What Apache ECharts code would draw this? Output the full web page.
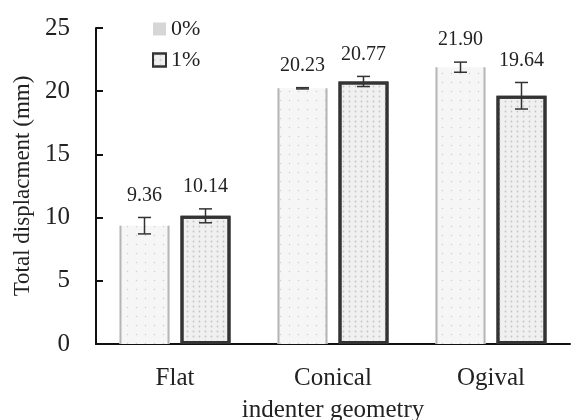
<!DOCTYPE html>
<html>
<head>
<meta charset="utf-8">
<script src="https://cdn.jsdelivr.net/npm/echarts@6/dist/echarts.min.js"></script>
<style>
  html, body { margin: 0; padding: 0; background: #fff; }
  #chart { width: 571px; height: 420px; }
</style>
</head>
<body>
<div id="chart"></div>
<script>
const categories = ['Flat', 'Conical', 'Ogival']
const seriesNames = ['0%', '1%']
const values0 = [9.36, 20.23, 21.90]
const values1 = [10.14, 20.77, 19.64]
const errors0 = [0.65, 0.05, 0.4]
const errors1 = [0.55, 0.4, 1.05]
const yTicks = [0, 5, 10, 15, 20, 25]

const font = 'Liberation Serif, Times New Roman, serif'
const barW = 50
const barOffset = 30.5 // half of bar width + gap

// error bars + value labels (and the side edges of the 0% bars, which have no top edge)
function errorSeries(values, errors, side, sideEdges) {
  return {
    type: 'custom',
    name: 'err' + side,
    silent: true,
    z: 5,
    data: values.map((v, i) => [i, v, errors[i]]),
    renderItem(params, api) {
      const i = api.value(0)
      const v = api.value(1)
      const e = api.value(2)
      const top = api.coord([i, v + e])
      const bot = api.coord([i, v - e])
      const x = top[0] + side * barOffset
      const cap = 6.5
      const st = { stroke: '#333', lineWidth: 1.5 }
      const children = []
      if (sideEdges) {
        const vTop = api.coord([i, v])[1]
        const base = api.coord([i, 0])[1]
        const es = { stroke: '#b5b5b5', lineWidth: 2 }
        children.push(
          { type: 'line', shape: { x1: x - barW / 2 + 1, y1: vTop, x2: x - barW / 2 + 1, y2: base }, style: es },
          { type: 'line', shape: { x1: x + barW / 2 - 1, y1: vTop, x2: x + barW / 2 - 1, y2: base }, style: es }
        )
      }
      children.push(
        { type: 'line', shape: { x1: x, y1: top[1], x2: x, y2: bot[1] }, style: st },
        { type: 'line', shape: { x1: x - cap, y1: top[1], x2: x + cap, y2: top[1] }, style: st },
        { type: 'line', shape: { x1: x - cap, y1: bot[1], x2: x + cap, y2: bot[1] }, style: st },
        {
          type: 'text',
          style: {
            x: x, y: top[1] - 22,
            text: v.toFixed(2),
            font: '20px ' + font,
            fill: '#222',
            align: 'center',
            verticalAlign: 'middle'
          }
        }
      )
      return { type: 'group', children }
    }
  }
}

const chart = echarts.init(document.getElementById('chart'))
chart.setOption({
  backgroundColor: '#fff',
  animation: false,
  grid: { left: 96, right: 1, top: 28, bottom: 76, outerBoundsMode: 'none', containLabel: false },
  legend: {
    data: [
      { name: seriesNames[0], itemStyle: { color: '#d6d6d6', decal: 'none' } },
      { name: seriesNames[1] }
    ],
    orient: 'vertical',
    left: 147,
    top: 13,
    icon: 'rect',
    itemWidth: 13,
    itemHeight: 13,
    itemGap: 9,
    textStyle: { fontFamily: font, fontSize: 22, color: '#222' }
  },
  xAxis: {
    type: 'category',
    data: categories,
    name: 'indenter geometry',
    nameLocation: 'middle',
    nameGap: 54,
    nameTextStyle: { fontFamily: font, fontSize: 25, color: '#222' },
    axisLine: { lineStyle: { color: '#111', width: 2 } },
    axisTick: { show: false },
    axisLabel: { fontFamily: font, fontSize: 25, color: '#222', margin: 22 }
  },
  yAxis: {
    type: 'value',
    min: yTicks[0],
    max: yTicks[yTicks.length - 1],
    interval: 5,
    name: 'Total displacment (mm)',
    nameLocation: 'middle',
    nameGap: 62,
    nameTextStyle: { fontFamily: font, fontSize: 23, color: '#222' },
    axisLine: { show: true, lineStyle: { color: '#111', width: 2 } },
    axisTick: { show: true, inside: true, length: 7, lineStyle: { color: '#111', width: 2 } },
    axisLabel: { fontFamily: font, fontSize: 25, color: '#222', margin: 26 },
    splitLine: { show: false }
  },
  series: [
    {
      name: seriesNames[0],
      type: 'bar',
      barWidth: barW,
      barGap: '22%',
      data: values0,
      itemStyle: {
        color: '#f6f6f6',
        decal: {
          symbol: 'circle',
          symbolSize: 0.5,
          dashArrayX: [[3, 6]],
          dashArrayY: [3, 6],
          rotation: 0,
          color: '#cfcfcf'
        }
      }
    },
    {
      name: seriesNames[1],
      type: 'bar',
      barWidth: barW,
      data: values1,
      itemStyle: {
        color: '#f0f0f0',
        borderColor: '#333',
        borderWidth: 3,
        decal: {
          symbol: 'circle',
          symbolSize: 0.6,
          dashArrayX: [[3, 3]],
          dashArrayY: [3, 2],
          rotation: 0,
          color: '#c4c4c4'
        }
      }
    },
    errorSeries(values0, errors0, -1, true),
    errorSeries(values1, errors1, 1, false)
  ]
})
</script>
</body>
</html>
